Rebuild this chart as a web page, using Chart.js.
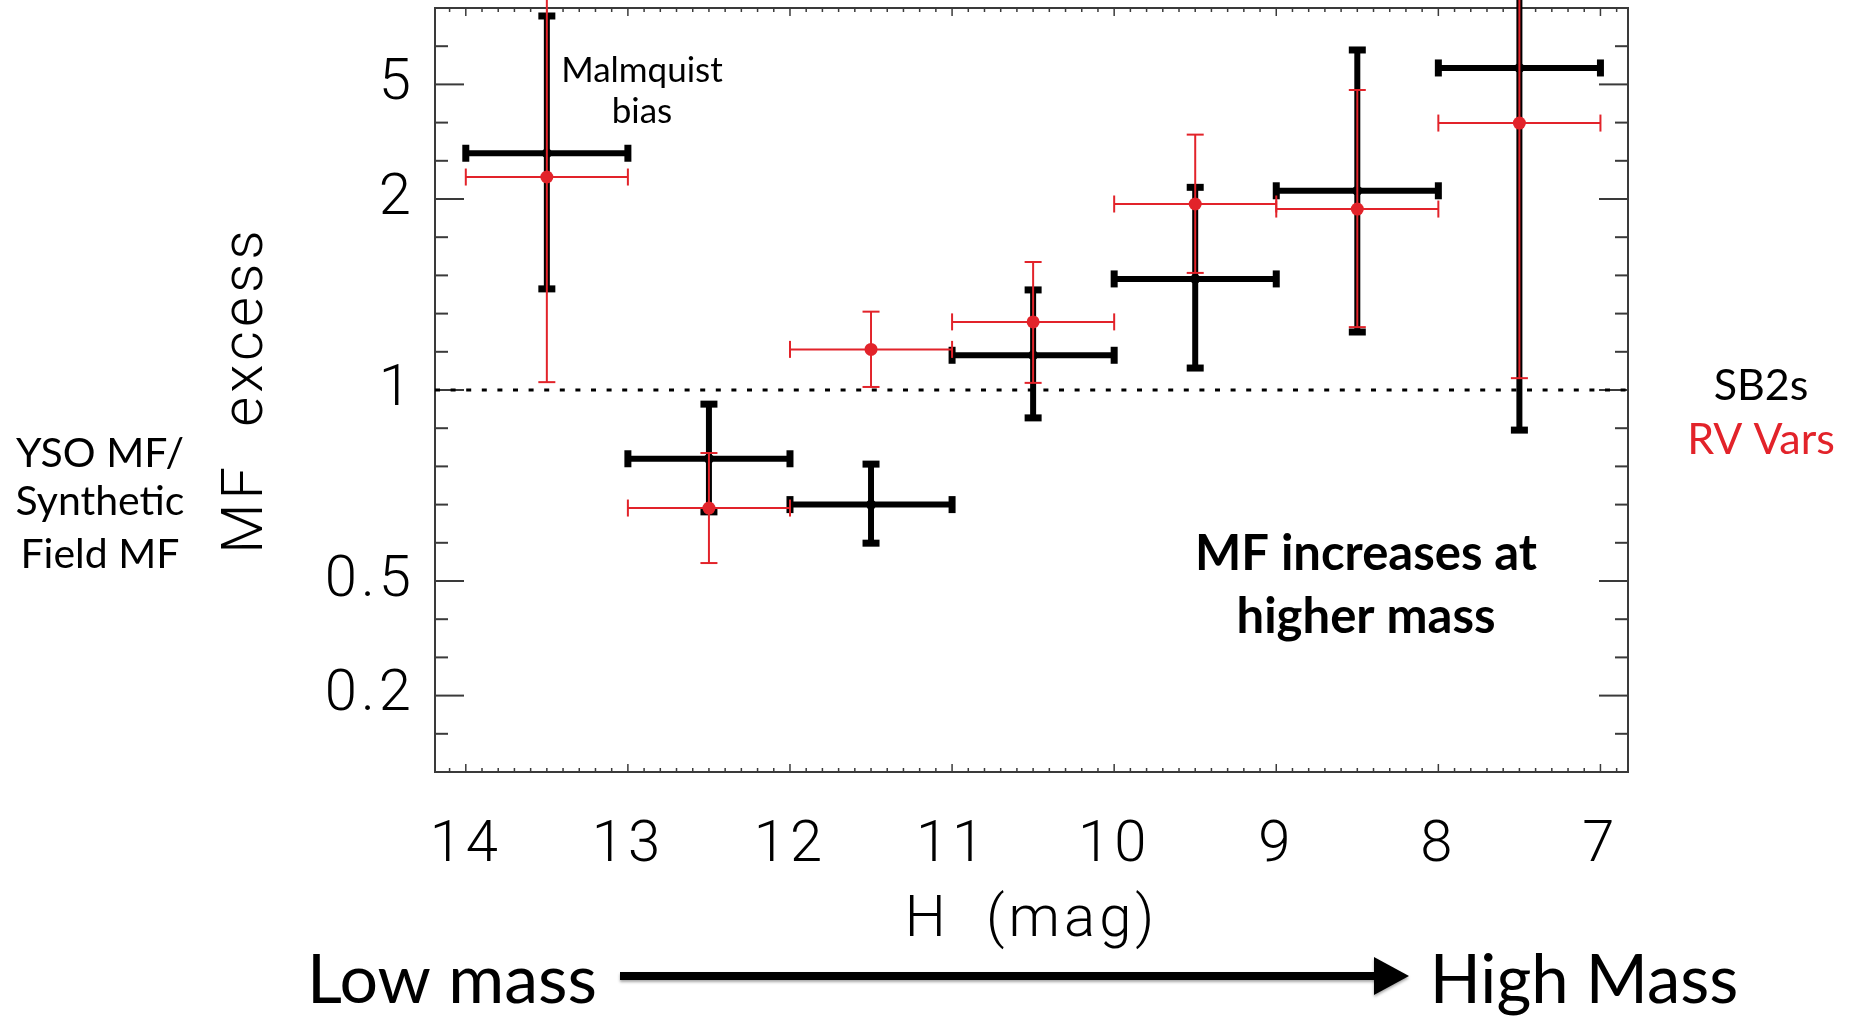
<!DOCTYPE html>
<html lang="en">
<head>
  <meta charset="UTF-8">
  <title>MF excess vs H</title>
  <script src="https://cdn.jsdelivr.net/npm/chart.js"></script>
  <style>
    body {
      margin: 0;
      background: white;
    }
    .wrap {
      position: relative;
      width: 1851px;
      height: 1018px;
    }
  </style>
</head>
<body>
  <div class="wrap"><canvas id="miCanvas"></canvas></div>

  <script>
    // H magnitude bins: centre and half width
    const hBins = [13.5, 12.5, 11.5, 10.5, 9.5, 8.5, 7.5];
    const hHalf = [0.5, 0.5, 0.5, 0.5, 0.5, 0.5, 0.5];

    // SB2s
    const sb2Mf = [2.63, 0.82, 0.70, 1.10, 1.41, 2.09, 6.37];
    const sb2Hi = [47.8, 0.963, 0.806, 1.355, 2.13, 9.1, Infinity];
    const sb2Lo = [1.36, 0.681, 0.599, 0.927, 1.061, 1.179, 0.895];

    // RV variables
    const rvMf = [2.26, 0.691, 1.119, 1.217, 1.949, 1.90, 3.32];
    const rvHi = [Infinity, 0.835, 1.258, 1.504, 3.017, 4.66, Infinity];
    const rvLo = [1.021, 0.547, 1.008, 1.019, 1.442, 1.197, 1.032];

    const xTicks = [14, 13, 12, 11, 10, 9, 8, 7];
    const yTicks = [0.2, 0.5, 1, 2, 5];
    const yMinor = [0.1, 0.2, 0.3, 0.4, 0.5, 0.6, 0.7, 0.8, 0.9, 1,
                    1.1111, 1.25, 1.4286, 1.6667, 2, 2.5, 3.3333, 5, 10];

    const RED = '#e2232a';

    // y axis: linear in v below 1, linear in 1/v above 1
    const warp = v => v < 1 ? v - 1 : 1 - 1 / v;
    const unwarp = u => u < 0 ? u + 1 : 1 / (1 - u);

    class RatioScale extends Chart.Scale {
      static id = 'ratio';
      static defaults = {};
      determineDataLimits() {
        this.min = 0;
        this.max = 1e9;
      }
      buildTicks() {
        return yMinor.map(v => ({ value: v }));
      }
      getLabelForValue(v) {
        return String(v);
      }
      getPixelForValue(v) {
        return this.getPixelForDecimal((warp(v) + 1) / 2);
      }
      getValueForPixel(p) {
        return unwarp(this.getDecimalForPixel(p) * 2 - 1);
      }
    }
    Chart.register(RatioScale);

    const seg = (ctx, x0, y0, x1, y1) => {
      ctx.beginPath();
      ctx.moveTo(x0, y0);
      ctx.lineTo(x1, y1);
      ctx.stroke();
    };

    // wide spacing for the axis text, off again before anything else
    const spacing = {
      id: 'spacing',
      beforeDraw(chart) { chart.ctx.letterSpacing = '4px'; },
      beforeDatasetsDraw(chart) { chart.ctx.letterSpacing = '0px'; }
    };

    // box, inward ticks on all sides, dotted line at 1
    const frame = {
      id: 'frame',
      beforeDatasetsDraw(chart) {
        const { ctx, chartArea: a, scales: { x, y } } = chart;
        ctx.save();
        ctx.strokeStyle = '#3a3a3a';
        ctx.lineWidth = 2;
        ctx.strokeRect(a.left, a.top, a.width, a.height);

        y.ticks.forEach(t => {
          const py = y.getPixelForValue(t.value);
          const len = t.label ? 29 : 13;
          seg(ctx, a.left, py, a.left + len, py);
          seg(ctx, a.right, py, a.right - len, py);
        });

        ctx.lineWidth = 1.5;
        for (let k = 69; k <= 141; k++) {
          const px = x.getPixelForValue(k / 10);
          const len = k % 10 === 0 ? 8 : 4;
          seg(ctx, px, a.bottom, px, a.bottom - len);
          seg(ctx, px, a.top, px, a.top + len);
        }

        const p1 = y.getPixelForValue(1);
        ctx.strokeStyle = '#000';
        ctx.lineWidth = 3;
        ctx.setLineDash([5, 10.6]);
        seg(ctx, a.left, p1, a.right, p1);
        ctx.restore();
      }
    };

    // error bars of each dataset, drawn under its points
    const errorBars = {
      id: 'errorBars',
      beforeDatasetDraw(chart, args) {
        const ds = chart.data.datasets[args.index];
        const { ctx, scales: { x, y } } = chart;
        const c = ds.capHalf;
        ctx.save();
        ctx.strokeStyle = ds.pointBackgroundColor;
        ds.data.forEach((p, i) => {
          const px = x.getPixelForValue(p.x);
          const py = y.getPixelForValue(p.y);
          const xa = x.getPixelForValue(p.x + ds.xErr[i]);
          const xb = x.getPixelForValue(p.x - ds.xErr[i]);
          const ya = y.getPixelForValue(ds.yLo[i]);
          const open = !isFinite(ds.yHi[i]);
          const yb = open ? 0 : y.getPixelForValue(ds.yHi[i]);
          ctx.lineWidth = ds.barWidth;
          seg(ctx, xa, py, xb, py);
          seg(ctx, px, ya, px, yb);
          ctx.lineWidth = ds.capWidth;
          seg(ctx, xa, py - c, xa, py + c);
          seg(ctx, xb, py - c, xb, py + c);
          seg(ctx, px - c, ya, px + c, ya);
          if (!open) seg(ctx, px - c, yb, px + c, yb);
        });
        ctx.restore();
      }
    };

    // side notes and the mass arrow
    const notes = {
      id: 'notes',
      afterDraw(chart) {
        const ctx = chart.ctx;
        ctx.save();
        ctx.letterSpacing = '0px';
        ctx.textAlign = 'center';
        ctx.textBaseline = 'alphabetic';
        const txt = (s, x, y, font, color) => {
          ctx.font = font;
          ctx.fillStyle = color || '#000';
          ctx.fillText(s, x, y);
        };
        txt('Malmquist', 642, 82, '35px Lato');
        txt('bias', 642, 123, '35px Lato');
        txt('MF increases at', 1366, 570, 'bold 49px Lato');
        txt('higher mass', 1366, 633, 'bold 49px Lato');
        txt('SB2s', 1761, 400, '43px Lato');
        txt('RV Vars', 1761, 454, '43px Lato', RED);
        txt('YSO MF/', 100, 467, '41px Lato');
        txt('Synthetic', 100, 515, '41px Lato');
        txt('Field MF', 100, 568, '41px Lato');
        txt('Low mass', 452, 1003, '68px Lato');
        txt('High Mass', 1584, 1003, '67px Lato');

        ctx.shadowColor = 'rgba(0,0,0,0.35)';
        ctx.shadowBlur = 3;
        ctx.shadowOffsetY = 2;
        ctx.strokeStyle = '#000';
        ctx.lineWidth = 8;
        seg(ctx, 620, 976, 1385, 976);
        ctx.fillStyle = '#000';
        ctx.beginPath();
        ctx.moveTo(1409, 976);
        ctx.lineTo(1374, 957);
        ctx.lineTo(1374, 995);
        ctx.closePath();
        ctx.fill();
        ctx.restore();
      }
    };

    const axisFont = { family: 'Roboto', size: 58, weight: 300 };

    // the axes keep their boxes exactly; no room added for label overhang
    const fixBox = (s, size) => {
      if (s.isHorizontal()) s.height = size; else s.width = size;
      s.paddingTop = 0;
      s.paddingBottom = 0;
      s.paddingLeft = 0;
      s.paddingRight = 0;
    };

    const ctx = document.getElementById('miCanvas').getContext('2d');
    new Chart(ctx, {
      type: 'scatter',
      data: {
        datasets: [
          {
            label: 'RV Vars',
            data: hBins.map((h, i) => ({ x: h, y: rvMf[i] })),
            xErr: hHalf, yLo: rvLo, yHi: rvHi,
            pointRadius: 6.5,
            pointBackgroundColor: RED,
            pointBorderWidth: 0,
            barWidth: 2, capWidth: 2, capHalf: 8.5,
            order: 1
          },
          {
            label: 'SB2s',
            data: hBins.map((h, i) => ({ x: h, y: sb2Mf[i] })),
            xErr: hHalf, yLo: sb2Lo, yHi: sb2Hi,
            pointRadius: 5,
            pointBackgroundColor: '#000',
            pointBorderWidth: 0,
            barWidth: 6, capWidth: 7, capHalf: 8.5,
            order: 2
          }
        ]
      },
      options: {
        responsive: true,
        maintainAspectRatio: false,
        animation: false,
        layout: {
          autoPadding: false,
          padding: { top: 8, right: 223, left: 0, bottom: 0 }
        },
        scales: {
          x: {
            type: 'linear',
            min: 6.83,
            max: 14.19,
            reverse: true,
            afterBuildTicks: s => { s.ticks = xTicks.map(v => ({ value: v })); },
            afterFit: s => fixBox(s, 246),
            grid: { display: false, drawTicks: false },
            border: { display: false },
            ticks: {
              autoSkip: false,
              maxRotation: 0,
              padding: 40,
              color: '#000',
              font: axisFont
            },
            title: {
              display: true,
              text: 'H  (mag)',
              color: '#000',
              font: axisFont,
              padding: { top: 0, bottom: 62 }
            }
          },
          y: {
            type: 'ratio',
            afterFit: s => fixBox(s, 435),
            grid: { display: false, drawTicks: false },
            border: { display: false },
            ticks: {
              autoSkip: false,
              padding: 20,
              color: '#000',
              font: axisFont,
              callback: v => yTicks.includes(v) ? String(v) : ''
            },
            title: {
              display: true,
              text: 'MF  excess',
              color: '#000',
              font: axisFont,
              padding: { top: 213, bottom: 0 }
            }
          }
        },
        plugins: {
          legend: { display: false },
          tooltip: { enabled: false }
        }
      },
      plugins: [spacing, frame, errorBars, notes]
    });
  </script>
</body>
</html>
